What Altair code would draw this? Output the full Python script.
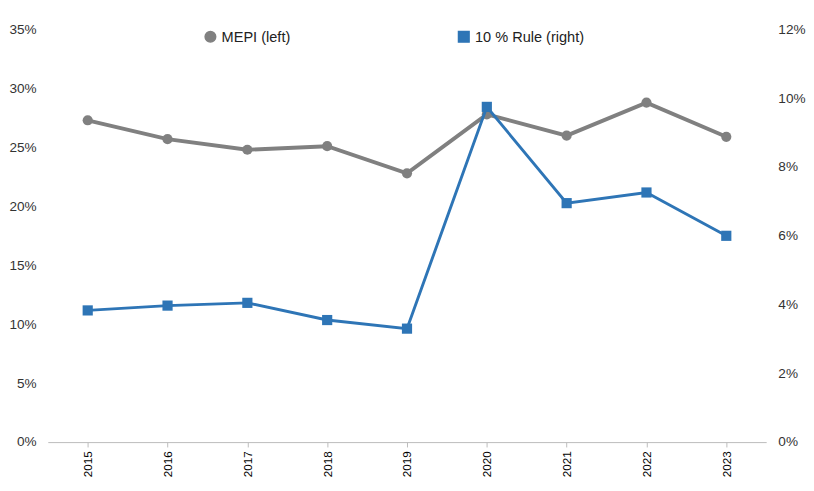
import altair as alt
import pandas as pd

years = ["2015", "2016", "2017", "2018", "2019", "2020", "2021", "2022", "2023"]
mepi = [27.3, 25.7, 24.8, 25.1, 22.8, 27.8, 26.0, 28.8, 25.9]
rule10 = [3.83, 3.97, 4.05, 3.55, 3.30, 9.75, 6.95, 7.26, 6.00]

names = ["MEPI (left)", "10 % Rule (right)"]
colors = ["#808080", "#2E75B6"]

df = pd.DataFrame({
    "year": years * 2,
    "value": [v / 100 for v in mepi] + [v / 100 for v in rule10],
    "series": [names[0]] * 9 + [names[1]] * 9,
})

x = alt.X("year:N", title=None, scale=alt.Scale(paddingOuter=0.5),
          axis=alt.Axis(labelAngle=270, labelFontSize=12, labelColor="#000", domainColor="#bbb",
                        tickColor="#bbb", labelPadding=4))
color = alt.Color("series:N", scale=alt.Scale(domain=names, range=colors),
                  legend=alt.Legend(title=None, orient="none", legendX=160, legendY=0,
                                    direction="horizontal", labelFontSize=15, columnPadding=170,
                                    symbolSize=120, labelColor="#222"))
shape = alt.Shape("series:N", scale=alt.Scale(domain=names, range=["circle", "square"]), legend=None)

base = alt.Chart(df)


def series_layer(name, y):
    sub = base.transform_filter(alt.datum.series == name)
    line = sub.mark_line(strokeWidth=4 if name == names[0] else 3).encode(x=x, y=y, color=color)
    pts = sub.mark_point(filled=True, size=110, opacity=1).encode(x=x, y=y, color=color, shape=shape)
    return line + pts


yl = alt.Y("value:Q", title=None, scale=alt.Scale(domain=[0, 0.35]),
           axis=alt.Axis(format=".0%", values=[i / 100 for i in range(0, 36, 5)], grid=False,
                         domain=False, ticks=False, labelFontSize=14, labelColor="#333",
                         labelPadding=12))
yr = alt.Y("value:Q", title=None, scale=alt.Scale(domain=[0, 0.12]),
           axis=alt.Axis(format=".0%", orient="right", values=[i / 100 for i in range(0, 13, 2)],
                         grid=False, domain=False, ticks=False, labelFontSize=14, labelColor="#333",
                         labelPadding=12))

chart = alt.layer(series_layer(names[0], yl), series_layer(names[1], yr)).resolve_scale(
    y="independent"
).properties(
    width=740, height=425, padding={"left": 0, "top": 8, "right": 0, "bottom": 0}
).configure(font="Liberation Sans").configure_view(stroke=None)

chart.save("out.html", embed_options={"renderer": "svg", "actions": False})
